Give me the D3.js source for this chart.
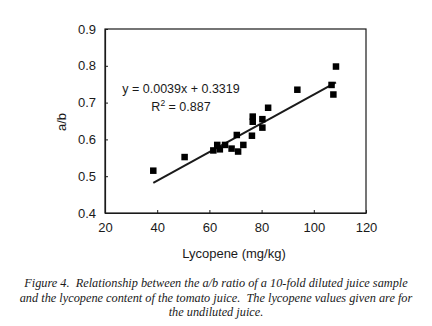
<!DOCTYPE html>
<html>
<head>
<meta charset="utf-8">
<script src="https://cdn.jsdelivr.net/npm/d3@7"></script>
<style>
  html, body { margin: 0; padding: 0; background: #fff; }
  svg { display: block; }
</style>
</head>
<body>
<svg id="chart" width="432" height="326"></svg>
<script>
// Lycopene content (mg/kg) of undiluted juice vs a/b ratio of 10-fold diluted sample
const lycopene = [38.5, 50.5, 61.5, 63, 64, 66, 68.5, 71, 70.5, 73, 76.3, 76.6, 76.6, 80.3, 80.3, 82.5, 93.7, 106.8, 107.5, 108.5];
const abRatio  = [0.515, 0.552, 0.570, 0.585, 0.573, 0.585, 0.575, 0.567, 0.612, 0.585, 0.610, 0.662, 0.648, 0.655, 0.632, 0.686, 0.735, 0.748, 0.722, 0.798];

// Linear fit shown on the chart
const slope = 0.0039;
const intercept = 0.3319;
const rSquared = 0.887;

const xTicks = [20, 40, 60, 80, 100, 120];
const yTicks = [0.4, 0.5, 0.6, 0.7, 0.8, 0.9];

const captionLines = [
  "Figure 4.  Relationship between the a/b ratio of a 10-fold diluted juice sample",
  "and the lycopene content of the tomato juice.  The lycopene values given are for",
  "the undiluted juice."
];

(function draw() {
  const svg = d3.select("#chart");
  const plotL = 105, plotR = 366, plotT = 29, plotB = 213;

  const x = d3.scaleLinear().domain([20, 120]).range([plotL, plotR]);
  const y = d3.scaleLinear().domain([0.4, 0.9]).range([plotB, plotT]);

  const ink = "#1a1a1a";
  const font = "Arial, 'Liberation Sans', sans-serif";

  // Plot frame
  svg.append("rect")
    .attr("x", plotL).attr("y", plotT)
    .attr("width", plotR - plotL).attr("height", plotB - plotT)
    .attr("fill", "none").attr("stroke", ink).attr("stroke-width", 1.2);

  // Axes with inward ticks
  const xAxis = d3.axisBottom(x).tickValues(xTicks).tickSizeInner(-3).tickSizeOuter(0).tickPadding(10)
    .tickFormat(d3.format("d"));
  const yAxis = d3.axisLeft(y).tickValues(yTicks).tickSizeInner(-3).tickSizeOuter(0).tickPadding(9)
    .tickFormat(d3.format(".1f"));

  const gx = svg.append("g").attr("transform", `translate(0,${plotB})`).call(xAxis);
  const gy = svg.append("g").attr("transform", `translate(${plotL},0)`).call(yAxis);
  [gx, gy].forEach(g => {
    g.select(".domain").attr("stroke", ink).attr("stroke-width", 1.2);
    g.selectAll(".tick line").attr("stroke", ink);
    g.selectAll(".tick text").attr("fill", ink).attr("font-family", font).attr("font-size", 13);
  });

  // Regression line across the data range
  const xMin = d3.min(lycopene), xMax = d3.max(lycopene);
  svg.append("line")
    .attr("x1", x(xMin)).attr("y1", y(slope * xMin + intercept))
    .attr("x2", x(xMax)).attr("y2", y(slope * xMax + intercept))
    .attr("stroke", ink).attr("stroke-width", 2);

  // Square markers
  const s = 6.5;
  svg.append("g").selectAll("rect")
    .data(lycopene.map((v, i) => [v, abRatio[i]]))
    .join("rect")
    .attr("x", d => x(d[0]) - s / 2)
    .attr("y", d => y(d[1]) - s / 2)
    .attr("width", s).attr("height", s)
    .attr("fill", "#000");

  // Equation annotation
  const eq = svg.append("g").attr("font-family", font).attr("font-size", 12.5).attr("fill", ink)
    .attr("text-anchor", "middle");
  eq.append("text").attr("x", 181).attr("y", 93)
    .text(`y = ${slope.toFixed(4)}x + ${intercept.toFixed(4)}`);
  const r2 = eq.append("text").attr("x", 181).attr("y", 111);
  r2.append("tspan").text("R");
  r2.append("tspan").attr("dy", -5).attr("font-size", 8.5).text("2");
  r2.append("tspan").attr("dy", 5).text(` = ${rSquared.toFixed(3)}`);

  // Axis titles
  svg.append("text")
    .attr("x", 234).attr("y", 258)
    .attr("text-anchor", "middle")
    .attr("font-family", font).attr("font-size", 13).attr("fill", ink)
    .text("Lycopene (mg/kg)");
  svg.append("text")
    .attr("transform", "translate(66,122) rotate(-90)")
    .attr("text-anchor", "middle")
    .attr("font-family", font).attr("font-size", 13).attr("fill", ink)
    .text("a/b");

  // Caption
  svg.append("g")
    .attr("font-family", "'Liberation Serif', 'Times New Roman', serif")
    .attr("font-style", "italic").attr("font-size", 12.3).attr("fill", ink)
    .attr("text-anchor", "middle")
    .selectAll("text")
    .data(captionLines)
    .join("text")
    .attr("x", 216)
    .attr("y", (d, i) => 287 + i * 14.5)
    .style("white-space", "pre")
    .text(d => d);
})();
</script>
</body>
</html>
